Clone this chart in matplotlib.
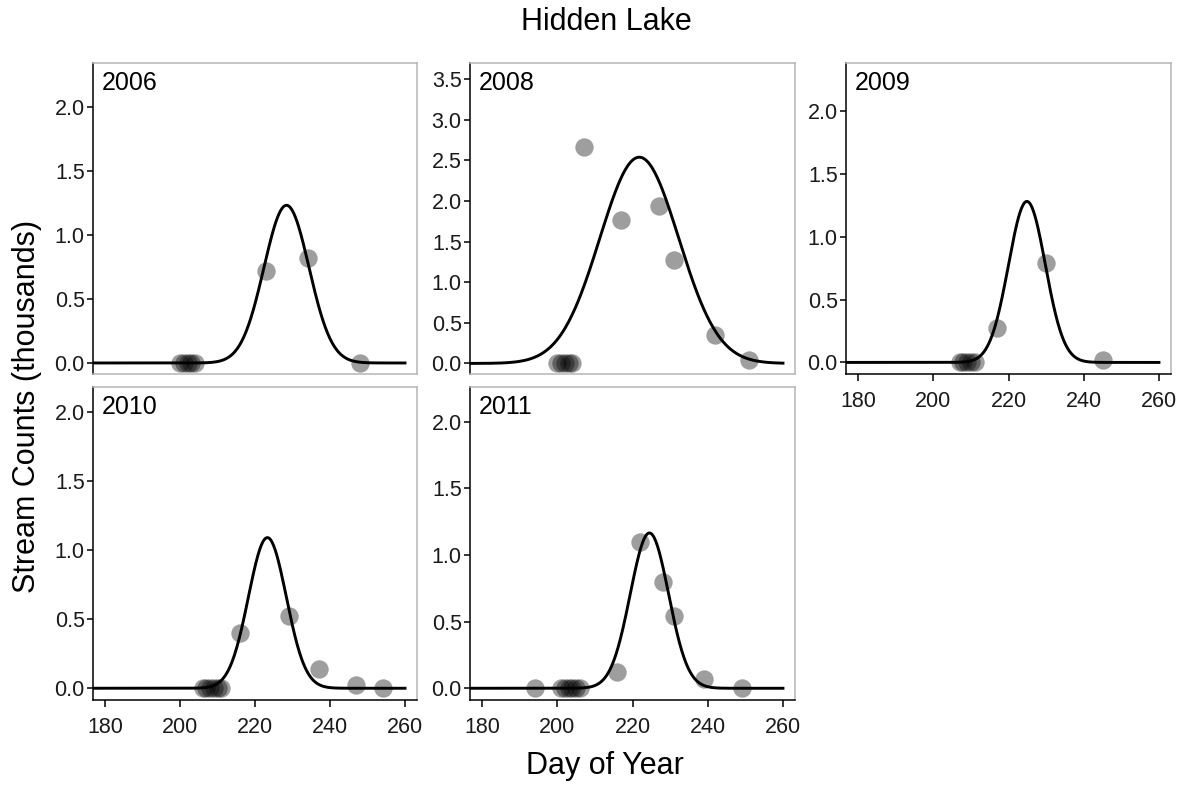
import numpy as np
import matplotlib as mpl
mpl.use('Agg')
import matplotlib.pyplot as plt

plt.rcParams['font.family'] = ['Liberation Sans', 'DejaVu Sans']

# stream survey counts (thousands) by day of year
years = ['2006', '2008', '2009', '2010', '2011']

day_2006 = [200, 201, 202, 203, 204, 223, 234, 248]
count_2006 = [0.0, 0.0, 0.0, 0.0, 0.0, 0.72, 0.82, 0.0]

day_2008 = [200, 201, 202, 203, 204, 207, 217, 227, 231, 242, 251]
count_2008 = [0.0, 0.0, 0.0, 0.0, 0.0, 2.66, 1.77, 1.94, 1.28, 0.35, 0.04]

day_2009 = [207, 208, 209, 210, 211, 217, 230, 245]
count_2009 = [0.0, 0.0, 0.0, 0.0, 0.0, 0.27, 0.79, 0.02]

day_2010 = [206, 207, 208, 209, 210, 211, 216, 229, 237, 247, 254]
count_2010 = [0.0, 0.0, 0.0, 0.0, 0.0, 0.0, 0.40, 0.52, 0.14, 0.02, 0.0]

day_2011 = [194, 201, 202, 203, 204, 205, 206, 216, 222, 228, 231, 239, 249]
count_2011 = [0.0, 0.0, 0.0, 0.0, 0.0, 0.0, 0.0, 0.12, 1.10, 0.80, 0.54, 0.07, 0.0]

# fitted normal run curves: peak height, peak day, spread (days)
fit_height = [1.23, 2.54, 1.28, 1.09, 1.165]
fit_mean = [228.4, 221.8, 224.9, 223.3, 224.5]
fit_sd = [6.0, 10.5, 4.9, 5.05, 5.1]

days = [day_2006, day_2008, day_2009, day_2010, day_2011]
counts = [count_2006, count_2008, count_2009, count_2010, count_2011]

x_ticks = [180, 200, 220, 240, 260]

W, H = 1183, 787
fig = plt.figure(figsize=(W / 100, H / 100), dpi=100)

# panel boxes in pixels: left, top, right, bottom
boxes = [(93, 63, 417, 374), (470, 63, 795, 374), (846, 63, 1171, 374),
         (93, 387, 417, 700), (470, 387, 795, 700)]
ylims = [(-0.086, 2.34), (-0.13, 3.70), (-0.092, 2.38),
         (-0.085, 2.18), (-0.088, 2.26)]
y_ticks = [np.arange(0, 2.01, 0.5), np.arange(0, 3.51, 0.5), np.arange(0, 2.01, 0.5),
           np.arange(0, 2.01, 0.5), np.arange(0, 2.01, 0.5)]
show_x = [False, False, True, True, True]

grid_x = np.linspace(176.8, 260, 400)

for i in range(5):
    l, t, r, b = boxes[i]
    ax = fig.add_axes([l / W, 1 - b / H, (r - l) / W, (b - t) / H])

    ax.scatter(days[i], counts[i], s=175, color='black', alpha=0.38,
               linewidths=0, zorder=2)
    curve = fit_height[i] * np.exp(-0.5 * ((grid_x - fit_mean[i]) / fit_sd[i]) ** 2)
    ax.plot(grid_x, curve, color='black', lw=2.1, zorder=3)

    ax.set_xlim(176.8, 263.2)
    ax.set_ylim(*ylims[i])
    ax.set_yticks(y_ticks[i])
    ax.set_yticklabels(['%.1f' % v for v in y_ticks[i]])
    ax.set_xticks(x_ticks)

    for side in ['top', 'right', 'bottom']:
        ax.spines[side].set_color('#b5b5b5')
        ax.spines[side].set_linewidth(1.1)
    ax.spines['left'].set_color('black')
    ax.spines['left'].set_linewidth(1.1)
    ax.tick_params(axis='y', length=4, width=1.1, pad=2, labelsize=15.5,
                   labelcolor='#1a1a1a')
    if show_x[i]:
        ax.spines['bottom'].set_color('black')
        ax.tick_params(axis='x', length=5, width=1.1, pad=7, labelsize=15.5,
                       labelcolor='#1a1a1a')
    else:
        ax.tick_params(axis='x', bottom=False, labelbottom=False)

    ax.text(8.5 / (r - l), 1 - 8 / (b - t), years[i], transform=ax.transAxes,
            ha='left', va='top', fontsize=18, color='black')

fig.text(606 / W, 1 - 22 / H, 'Hidden Lake', ha='center', va='center', fontsize=22)
fig.text(605 / W, 1 - 766 / H, 'Day of Year', ha='center', va='center', fontsize=22)
fig.text(27 / W, 1 - 406 / H, 'Stream Counts (thousands)', ha='center', va='center',
         rotation=90, fontsize=22)

plt.savefig('out.png', dpi=100)
